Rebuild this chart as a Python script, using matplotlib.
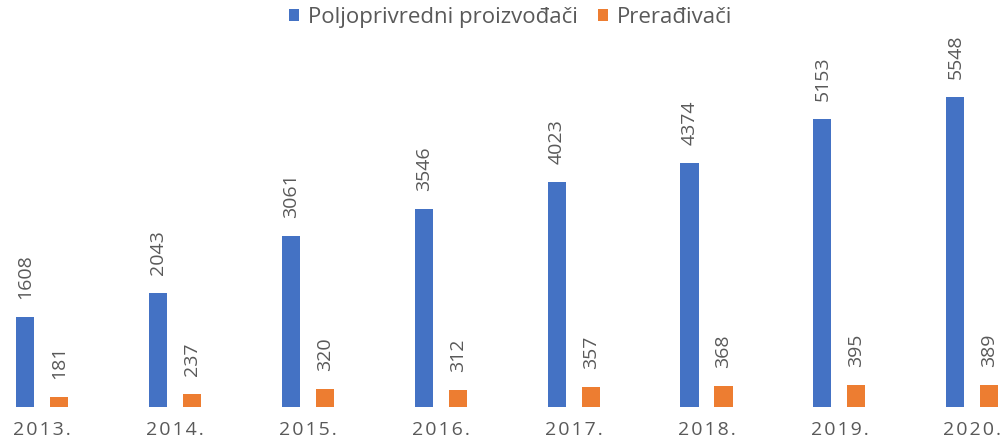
import matplotlib
matplotlib.use("Agg")
import matplotlib.pyplot as plt
import numpy as np

years = ["2013.", "2014.", "2015.", "2016.", "2017.", "2018.", "2019.", "2020."]
producers = [1608, 2043, 3061, 3546, 4023, 4374, 5153, 5548]
processors = [181, 237, 320, 312, 357, 368, 395, 389]
series_names = ["Poljoprivredni proizvođači", "Prerađivači"]

plt.rcParams["font.family"] = ["Open Sans", "DejaVu Sans"]
gray = "#595959"

fig = plt.figure(figsize=(10.01, 4.45), dpi=100)
ax = fig.add_axes([0, 38 / 445, 1, 407 / 445])

x = np.arange(len(years))
width = 0.136
off = 0.128
b1 = ax.bar(x - off, producers, width, color="#4472C4", label=series_names[0])
b2 = ax.bar(x + off, processors, width, color="#ED7D31", label=series_names[1])

for bars, vals in ((b1, producers), (b2, processors)):
    for rect, v in zip(bars, vals):
        ax.annotate(str(v), (rect.get_x() + rect.get_width() / 2, v),
                    xytext=(0, 13), textcoords="offset points",
                    rotation=90, ha="center", va="bottom",
                    fontsize=14, color=gray)

ax.set_xlim(-42 / 132.9, (1001 - 42) / 132.9)
ax.set_ylim(0, 407 / 0.05588)
ax.set_xticks(x)
ax.set_xticklabels(["\u200a".join(y) for y in years], fontsize=14, color=gray)
ax.tick_params(axis="x", length=0, pad=10)
ax.set_yticks([])
for s in ax.spines.values():
    s.set_visible(False)

fig.legend(loc="upper center", bbox_to_anchor=(0.51, 1.03), ncol=2, frameon=False,
           fontsize=16, labelcolor=gray, handlelength=0.45, handleheight=0.45,
           handletextpad=0.4, columnspacing=0.9)

fig.savefig("out.png", dpi=100)
